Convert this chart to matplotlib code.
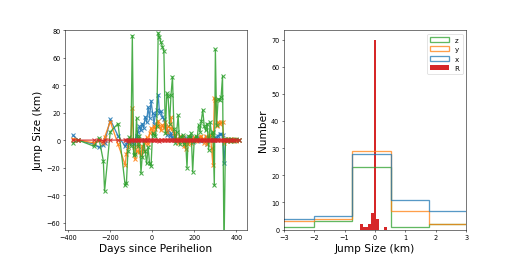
import numpy as np
import matplotlib
matplotlib.use("Agg")
import matplotlib.pyplot as plt
from matplotlib.ticker import MultipleLocator

# epochs (days since perihelion), shared by all series
days = [-376, -352, -275, -253, -232, -226, -199, -162, -128, -122,
        -115, -108, -101, -94, -88, -81, -74, -67, -60, -53,
        -47, -40, -33, -26, -19, -12, -5, 2, 9, 15,
        22, 29, 35, 42, 49, 56, 63, 70, 76, 83,
        90, 97, 104, 111, 117, 124, 131, 138, 145, 152,
        159, 166, 172, 179, 186, 193, 200, 207, 214, 221,
        228, 234, 241, 248, 255, 262, 269, 276, 283, 289,
        296, 301, 307, 314, 321, 328, 335, 342, 349, 356,
        363, 370, 377, 384, 391, 398, 413]

# jump sizes (km)
jump_x = [3.5, 0, -3, -5.3, -3.5, -2, 15, 3, -4.5, -3,
          -1, 0, 1, -2, -3, 0, 3, 6, 10, 7,
          12, 9, 17, 13, 24, 16, 28.6, 20, 12, 18,
          22, 33, 20, 21, 17, 15, 10, 4, 7, 3,
          5, 2, 1, 3, 0.5, -1, 1, 0, 2, 1.5,
          0, -1, 1, 0.3, 2, -1.5, 1, 0, 2.5, 1,
          0, -0.5, 1, 0.2, 2, -2.5, 0.5, 1, 0, 1,
          0.3, 2, 1, 3, 4.5, 4.3, 4, -16.5, 0.2, -0.3,
          0.1, -0.2, 0.4, 0, -0.1, 0.3, 0]

jump_y = [1, 0, -2, 0, -2, 2, 13.5, -3, -18, -10,
          -5, -2, 0, 23, -5, -14, -8, -3, -9, -11,
          -4, -8, -2, 2, -3, 5, 9, 6, 10, 8,
          12, 14, 10, 7, 11, 9, 13, 6, 10, 9,
          16.5, 8, 5, 3, 1, -2, 3, -1, 2, -4,
          -6.5, 0, -3, 1, -2, 0, 2, -1, 1, 0,
          2, 3, 1, -2, 3, -3, 2, 4, -6, -18,
          30.5, 29, 10, 13, 12, 13, 13, -2, 0.5, -1,
          0, 1, -0.5, 0, 1, -1, 0]

jump_z = [-2, 0, -4.5, 1.5, -15, -37, 6, 12, -33, -31,
          -8, 2, -4, 76, -11, -10, 16, -4, 3, -24,
          -12, 0, -8, -17, -5, -17, -19, 5, 4, 3,
          10, 78, 75, 71, 68, 65, 5, 34, 32, 12,
          33, 46, 8, -2, 6, 18, -3, 2, 4, -3,
          0, -20, 3, 2, 5, -23, -1, 3, 1, 11,
          6, 14, 22, 10, 7, 12, -7, 13, 4, 6,
          -33, 66, 11, 30, 29, 31, 46.5, -80, 1, 0,
          0.5, -1, 1, 0, -0.5, 1, 0]

jump_r = [0.01, -0.02, 0.0, 0.02, -0.45, 0.01, -0.01, 0.03, -0.08, 0.0,
          0.01, -0.42, 0.02, -0.1, 0.0, 0.06, -0.01, 0.0, -0.26, 0.01,
          0.0, -0.07, 0.02, 0.0, -0.01, 0.08, 0.01, -0.18, 0.0, 0.02,
          -0.01, 0.0, -0.35, 0.01, 0.0, -0.06, 0.02, 0.0, 0.1, -0.01,
          0.0, 0.01, -0.09, 0.0, 0.03, -0.02, 0.0, 0.35, 0.01, 0.0,
          -0.15, 0.0, 0.02, -0.01, 0.0, 0.07, 0.01, 0.0, -0.11, 0.0,
          0.01, -0.02, 0.0, 0.01, 0.0, -0.01, 0.02, 0.0, 0.01, -0.03,
          0.0, 0.01, 0.0, -0.01, 0.02, 0.0, -0.02, 0.01, 0.0, 0.0,
          0.01, 0.0, -0.01, 0.02, 0.0, 0.01, 0.0]

# histogram of x/y/z jumps (coarse bins)
xyz_edges = [-3.285, -2.02, -0.753, 0.513, 1.778, 3.043]
counts_x = [4, 5, 28, 11, 7]
counts_y = [3, 4, 29, 7, 2]
counts_z = [1, 3, 23, 1, 2]

# fine bins for R
r_edges = [-0.48, -0.393, -0.306, -0.219, -0.132, -0.045, 0.042, 0.129, 0.216, 0.303, 0.39]

fig, (ax1, ax2) = plt.subplots(1, 2, figsize=(11, 5.5), dpi=47.09)

style = dict(marker='x', markersize=7, markeredgewidth=1.6, linewidth=2, alpha=0.85)
ax1.plot(days, jump_x, color='C0', **style)
ax1.plot(days, jump_y, color='C1', **style)
ax1.plot(days, jump_z, color='C2', **style)
ax1.plot(days, jump_r, color='C3', **style)
ax1.set_ylim(-65, 80)
ax1.xaxis.set_major_locator(MultipleLocator(200))
ax1.set_xlabel('Days since Perihelion', fontsize=16)
ax1.set_ylabel('Jump Size (km)', fontsize=16)

# coarse histograms drawn as step outlines (bin centres weighted by counts)
centres = 0.5 * (np.array(xyz_edges[:-1]) + np.array(xyz_edges[1:]))
ax2.hist([centres, centres, centres], bins=xyz_edges,
         weights=[counts_x, counts_y, counts_z], histtype='step',
         color=['C0', 'C1', 'C2'], label=['x', 'y', 'z'],
         linewidth=2, alpha=0.75)
ax2.hist(jump_r, bins=r_edges, color='C3', label='R')
ax2.set_xlim(-3, 3)
ax2.set_xlabel('Jump Size (km)', fontsize=16)
ax2.set_ylabel('Number', fontsize=16)
ax2.legend(loc='upper right', fontsize=11, handlelength=2.6)

fig.savefig('out.png', dpi=47.09)
